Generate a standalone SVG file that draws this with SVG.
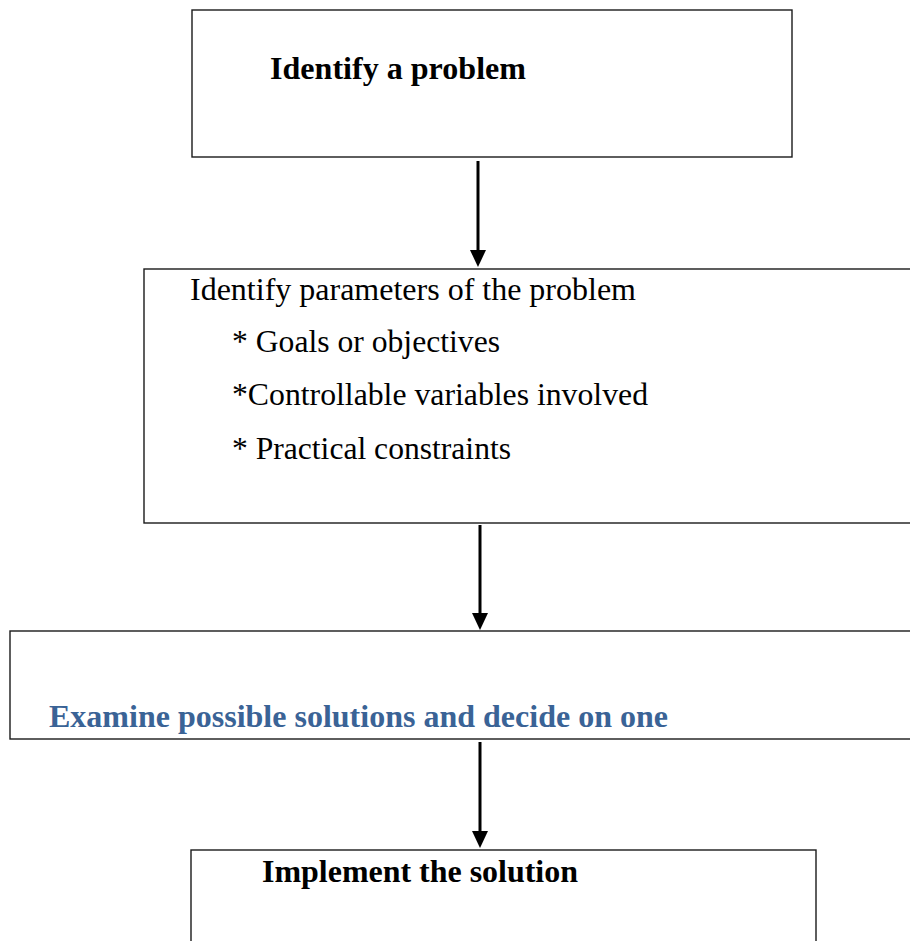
<svg xmlns="http://www.w3.org/2000/svg" width="910" height="941" viewBox="0 0 910 941">
<style>
.box{fill:#fff;stroke:#1a1a1a;stroke-width:1.4}
.t{font-family:"Liberation Serif","Times New Roman",serif;font-size:32px;fill:#000}
.b{font-weight:bold}
.blue{fill:#3a6396}
.conn{stroke:#000;stroke-width:3;fill:none}
.head{fill:#000}
</style>
<rect width="910" height="941" fill="#fff"/>
<g id="n1">
<rect class="box" x="192" y="10" width="600" height="147"/>
<text class="t b" x="270" y="79" textLength="256" lengthAdjust="spacingAndGlyphs">Identify a problem</text>
</g>
<g id="n2">
<rect class="box" x="144" y="269" width="790" height="254"/>
<text class="t" x="190" y="300" textLength="446" lengthAdjust="spacingAndGlyphs">Identify parameters of the problem</text>
<text class="t" x="232" y="352" textLength="268" lengthAdjust="spacingAndGlyphs">* Goals or objectives</text>
<text class="t" x="232" y="405" textLength="416" lengthAdjust="spacingAndGlyphs">*Controllable variables involved</text>
<text class="t" x="232" y="459" textLength="279" lengthAdjust="spacingAndGlyphs">* Practical constraints</text>
</g>
<g id="n3">
<rect class="box" x="10" y="631" width="924" height="108"/>
<text class="t b blue" x="49" y="727" textLength="619" lengthAdjust="spacingAndGlyphs">Examine possible solutions and decide on one</text>
</g>
<g id="n4">
<rect class="box" x="191" y="850" width="625" height="120"/>
<text class="t b" x="262" y="882" textLength="316" lengthAdjust="spacingAndGlyphs">Implement the solution</text>
</g>
<g id="connectors">
<line class="conn" x1="478" y1="161" x2="478" y2="252"/>
<path class="head" d="M470,250 L486,250 L478,267 Z"/>
<line class="conn" x1="480" y1="525" x2="480" y2="615"/>
<path class="head" d="M472,613 L488,613 L480,630 Z"/>
<line class="conn" x1="480" y1="742" x2="480" y2="833"/>
<path class="head" d="M472,831 L488,831 L480,848 Z"/>
</g>
</svg>
